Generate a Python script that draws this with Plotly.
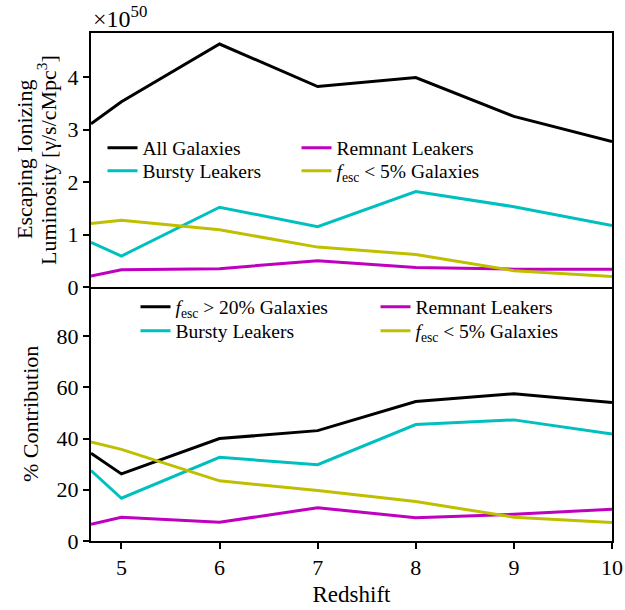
import plotly.graph_objects as go
from plotly.subplots import make_subplots

redshift = [4.69, 5, 6, 7, 8, 9, 10]

# Top panel: escaping ionizing luminosity (units of 1e50 photons/s/cMpc^3)
lum_all = [3.11, 3.53, 4.63, 3.82, 3.99, 3.25, 2.77]
lum_bursty = [0.85, 0.59, 1.52, 1.15, 1.82, 1.53, 1.17]
lum_remnant = [0.21, 0.33, 0.35, 0.50, 0.37, 0.34, 0.34]
lum_low = [1.21, 1.27, 1.09, 0.76, 0.62, 0.31, 0.20]

# Bottom panel: % contribution
pct_high = [34.3, 26.2, 40.0, 43.1, 54.5, 57.5, 54.1]
pct_bursty = [27.5, 16.7, 32.7, 29.8, 45.5, 47.3, 41.8]
pct_remnant = [6.5, 9.3, 7.3, 13.0, 9.1, 10.4, 12.4]
pct_low = [38.7, 35.8, 23.5, 19.7, 15.4, 9.3, 7.2]

x_ticks = [5, 6, 7, 8, 9, 10]
top_ticks = [0, 1, 2, 3, 4]
bot_ticks = [0, 20, 40, 60, 80]

BLACK = "#000000"
CYAN = "#00BFBF"
MAGENTA = "#BF00BF"
YELLOW = "#BFBF00"
FONT = "Liberation Serif"
TICK_FS = 22
LABEL_FS = 23
LEG_FS = 19.5

W, H = 625, 610
M_L, M_R, M_T, M_B = 91, 13, 33, 69
PLOT_W = W - M_L - M_R
PLOT_H = H - M_T - M_B


def px_x(px):
    return (px - M_L) / PLOT_W


def px_y(py):
    return (H - M_B - py) / PLOT_H


fig = make_subplots(rows=2, cols=1, shared_xaxes=True, vertical_spacing=0)

LW = 3
# (name, values, colour, legend row)
top = [
    ("All Galaxies", lum_all, BLACK, "legend"),
    ("Remnant Leakers", lum_remnant, MAGENTA, "legend"),
    ("Bursty Leakers", lum_bursty, CYAN, "legend3"),
    ("<i>f</i><sub>esc</sub> &lt; 5% Galaxies", lum_low, YELLOW, "legend3"),
]
for name, ys, c, lg in top:
    fig.add_trace(go.Scatter(x=redshift, y=ys, mode="lines", name=name,
                             line=dict(color=c, width=LW), legend=lg),
                  row=1, col=1)

bot = [
    ("<i>f</i><sub>esc</sub> &gt; 20% Galaxies", pct_high, BLACK, "legend2"),
    ("Remnant Leakers", pct_remnant, MAGENTA, "legend2"),
    ("Bursty Leakers", pct_bursty, CYAN, "legend4"),
    ("<i>f</i><sub>esc</sub> &lt; 5% Galaxies", pct_low, YELLOW, "legend4"),
]
for name, ys, c, lg in bot:
    fig.add_trace(go.Scatter(x=redshift, y=ys, mode="lines", name=name,
                             line=dict(color=c, width=LW), legend=lg),
                  row=2, col=1)

axis_common = dict(showline=True, linecolor="black", linewidth=2, mirror=True,
                   showgrid=False, zeroline=False,
                   tickfont=dict(family=FONT, size=TICK_FS, color="black"),
                   ticklen=6, tickwidth=1.5, tickcolor="black")

fig.update_xaxes(range=[4.69, 10], **axis_common)
fig.update_xaxes(ticks="", showticklabels=False, row=1, col=1)
fig.update_xaxes(ticks="outside", tickvals=x_ticks, mirror=False, row=2, col=1,
                 title=dict(text="Redshift",
                            font=dict(family=FONT, size=LABEL_FS, color="black"),
                            standoff=6))
fig.update_yaxes(**axis_common)
fig.update_yaxes(range=[0, 4.84], tickvals=top_ticks, ticks="outside", row=1, col=1)
fig.update_yaxes(range=[0, 99.2], tickvals=bot_ticks, ticks="outside", row=2, col=1)

fig.add_annotation(text="×10<sup>50</sup>", xref="paper", yref="paper", x=px_x(91), y=1.0,
                   xanchor="left", yanchor="bottom", showarrow=False, yshift=-1,
                   font=dict(family=FONT, size=24, color="black"))
title_font = dict(family=FONT, size=LABEL_FS - 1, color="black")
fig.add_annotation(text="Escaping Ionizing",
                   xref="paper", yref="paper", x=px_x(24), y=0.75, textangle=-90,
                   xanchor="center", yanchor="middle", showarrow=False, font=title_font)
fig.add_annotation(text="Luminosity [γ/s/cMpc<sup>3</sup>]",
                   xref="paper", yref="paper", x=px_x(47), y=0.75, textangle=-90,
                   xanchor="center", yanchor="middle", showarrow=False, font=title_font)
fig.add_annotation(text="% Contribution",
                   xref="paper", yref="paper", x=px_x(30), y=0.25, textangle=-90,
                   xanchor="center", yanchor="middle", showarrow=False, font=title_font)

legend_font = dict(family=FONT, size=LEG_FS, color="black")


def leg(xpx, ypx, ew):
    return dict(x=px_x(xpx), y=px_y(ypx), xanchor="left", yanchor="middle",
                orientation="h", entrywidth=ew, font=legend_font,
                bgcolor="rgba(0,0,0,0)")


fig.update_layout(
    width=W, height=H,
    margin=dict(l=M_L, r=M_R, t=M_T, b=M_B, autoexpand=False),
    paper_bgcolor="white", plot_bgcolor="white",
    hovermode=False,
    legend=leg(102.5, 148, 149),
    legend3=leg(102.5, 171, 149),
    legend2=leg(135.5, 307, 195),
    legend4=leg(135.5, 331, 195),
)

fig.write_html("out.html", config={"displayModeBar": False},
               post_script="document.body.style.margin='0px';")
